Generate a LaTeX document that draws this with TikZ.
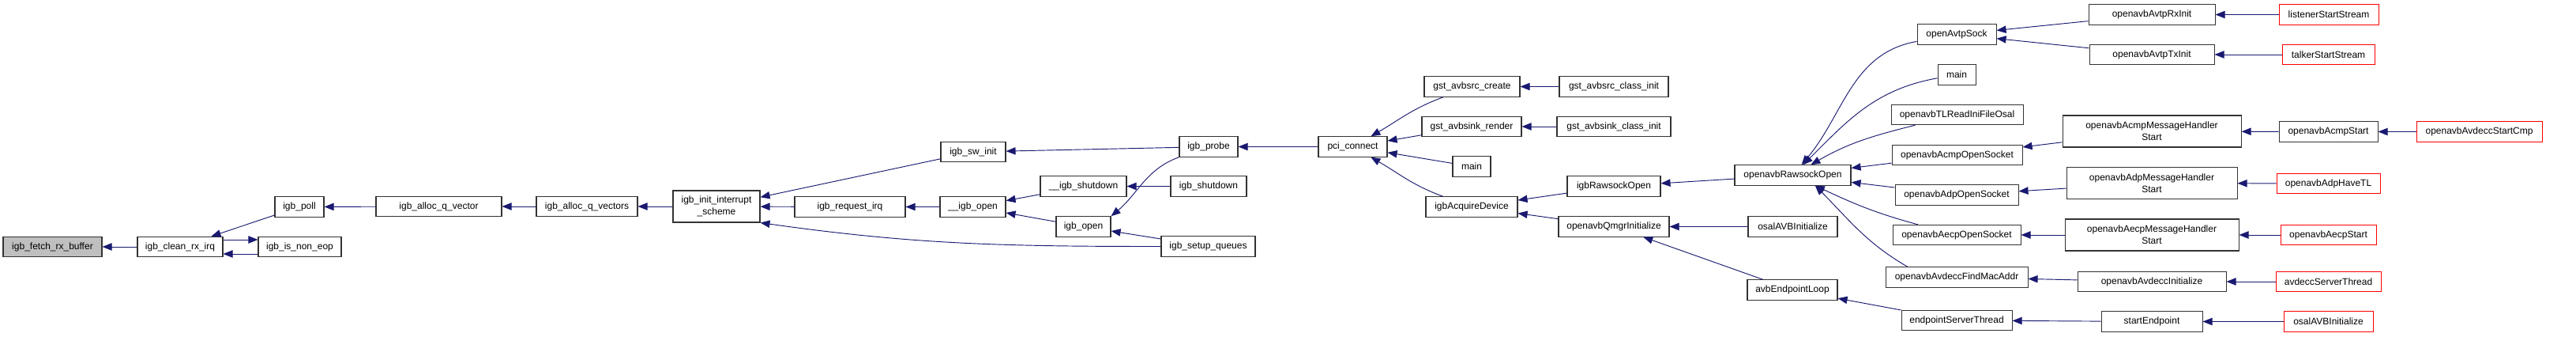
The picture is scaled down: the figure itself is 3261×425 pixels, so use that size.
\documentclass[tikz,border=0pt]{standalone}
\usepackage{fontspec}
\setmainfont{Liberation Sans}
\usetikzlibrary{arrows.meta}
\definecolor{navy}{HTML}{191970}

\begin{document}
\begin{tikzpicture}[x=0.75pt, y=0.75pt,
    fn/.style={draw=black!80, line width=0.8pt, fill=white, inner sep=0pt,
        minimum width=#1*0.75pt, minimum height=19pt,
        font=\fontsize{9}{11}\selectfont, align=center},
    root/.style={fill=black!25},
    leaf/.style={draw=red},
    call/.style={navy, line width=0.7pt, -{Triangle[length=9pt,width=7pt]}}]
    \useasboundingbox (0,0) rectangle (3261,-425);

    \node[fn=125, root] (fetch) at (66.5,-312) {igb\_fetch\_rx\_buffer};
    \node[fn=108] (clean) at (228,-312) {igb\_clean\_rx\_irq};
    \node[fn=62] (poll) at (379,-261.5) {igb\_poll};
    \node[fn=105] (noneop) at (379.5,-312) {igb\_is\_non\_eop};
    \node[fn=159] (allocv) at (555.5,-261) {igb\_alloc\_q\_vector};
    \node[fn=128] (allocvs) at (743,-261) {igb\_alloc\_q\_vectors};
    \node[fn=110, minimum height=30pt] (initint) at (907,-261) {igb\_init\_interrupt\\\_scheme};
    \node[fn=140] (reqirq) at (1076,-261.5) {igb\_request\_irq};
    \node[fn=82] (swinit) at (1232,-192) {igb\_sw\_init};
    \node[fn=83] (uuopen) at (1231.5,-261.5) {\_\_igb\_open};
    \node[fn=109] (uushut) at (1371.5,-235.5) {\_\_igb\_shutdown};
    \node[fn=69] (open) at (1371.5,-286.5) {igb\_open};
    \node[fn=74] (probe) at (1530,-185.5) {igb\_probe};
    \node[fn=96] (shutdown) at (1530,-235.5) {igb\_shutdown};
    \node[fn=119] (setupq) at (1529.5,-311.5) {igb\_setup\_queues};
    \node[fn=87] (pci) at (1712.5,-185.5) {pci\_connect};
    \node[fn=121] (srccreate) at (1863.5,-109.5) {gst\_avbsrc\_create};
    \node[fn=126] (sinkrender) at (1863,-160) {gst\_avbsink\_render};
    \node[fn=48] (mainA) at (1863,-210.5) {main};
    \node[fn=116] (acquire) at (1863,-261.5) {igbAcquireDevice};
    \node[fn=138] (srcclass) at (2043,-109.5) {gst\_avbsrc\_class\_init};
    \node[fn=144] (sinkclass) at (2043,-160) {gst\_avbsink\_class\_init};
    \node[fn=118] (igbraw) at (2043,-235.5) {igbRawsockOpen};
    \node[fn=140] (qmgr) at (2043,-286.5) {openavbQmgrInitialize};
    \node[fn=147] (rawopen) at (2269.5,-221.5) {openavbRawsockOpen};
    \node[fn=113] (osalA) at (2269.5,-286.5) {osalAVBInitialize};
    \node[fn=114] (eploop) at (2269,-366.5) {avbEndpointLoop};
    \node[fn=100] (avtpsock) at (2477,-43.5) {openAvtpSock};
    \node[fn=48] (mainB) at (2477,-94.5) {main};
    \node[fn=167] (tlread) at (2477.5,-145) {openavbTLReadIniFileOsal};
    \node[fn=165] (acmpsock) at (2477.5,-196) {openavbAcmpOpenSocket};
    \node[fn=156] (adpsock) at (2477,-246.5) {openavbAdpOpenSocket};
    \node[fn=162] (aecpsock) at (2477,-297) {openavbAecpOpenSocket};
    \node[fn=180] (findmac) at (2477,-350.5) {openavbAvdeccFindMacAddr};
    \node[fn=140] (epserver) at (2477,-405) {endpointServerThread};
    \node[fn=160] (rxinit) at (2724,-18.5) {openavbAvtpRxInit};
    \node[fn=158] (txinit) at (2724,-69) {openavbAvtpTxInit};
    \node[fn=226, minimum height=30pt] (acmpmsg) at (2724,-166) {openavbAcmpMessageHandler\\Start};
    \node[fn=216, minimum height=30pt] (adpmsg) at (2724,-231.5) {openavbAdpMessageHandler\\Start};
    \node[fn=220, minimum height=30pt] (aecpmsg) at (2724,-297) {openavbAecpMessageHandler\\Start};
    \node[fn=188] (avdinit) at (2724,-356) {openavbAvdeccInitialize};
    \node[fn=128] (startep) at (2724,-406.5) {startEndpoint};
    \node[fn=126, leaf] (listener) at (2948,-18.5) {listenerStartStream};
    \node[fn=117, leaf] (talker) at (2947.5,-69) {talkerStartStream};
    \node[fn=125] (acmpstart) at (2947.5,-166.5) {openavbAcmpStart};
    \node[fn=159, leaf] (startcmp) at (3138.5,-166.5) {openavbAvdeccStartCmp};
    \node[fn=131, leaf] (havetl) at (2947.5,-232) {openavbAdpHaveTL};
    \node[fn=121, leaf] (aecpstart) at (2947.5,-297) {openavbAecpStart};
    \node[fn=133, leaf] (avdserver) at (2947.5,-356) {avdeccServerThread};
    \node[fn=113, leaf] (osalB) at (2947.5,-406.5) {osalAVBInitialize};

    \draw[call] (clean) -- (fetch);
    \draw[call] (poll) -- (clean);
    \draw[call] ([yshift=6.75pt]clean.east) -- ([yshift=6.75pt]noneop.west);
    \draw[call] ([yshift=-6.75pt]noneop.west) -- ([yshift=-6.75pt]clean.east);
    \draw[call] (allocv) -- (poll);
    \draw[call] (allocvs) -- (allocv);
    \draw[call] (initint) -- (allocvs);
    \draw[call] (swinit) -- (initint);
    \draw[call] (reqirq) -- (initint);
    \draw[call] (setupq) to[out=180,in=-8] (initint.south east);
    \draw[call] (uuopen) -- (reqirq);
    \draw[call] (probe) -- (swinit);
    \draw[call] (uushut) -- (uuopen);
    \draw[call] (open) -- (uuopen);
    \draw[call] (shutdown) -- (uushut);
    \draw[call] (probe.south west) to[out=200,in=40] (open.north east);
    \draw[call] (setupq) -- (open);
    \draw[call] (pci) -- (probe);
    \draw[call] (srccreate) to[out=200,in=30] (pci);
    \draw[call] (sinkrender) -- (pci);
    \draw[call] (mainA) -- (pci);
    \draw[call] (acquire) to[out=160,in=-30] (pci);
    \draw[call] (srcclass) -- (srccreate);
    \draw[call] (sinkclass) -- (sinkrender);
    \draw[call] (igbraw) -- (acquire);
    \draw[call] (qmgr) -- (acquire);
    \draw[call] (rawopen) -- (igbraw);
    \draw[call] (osalA) -- (qmgr);
    \draw[call] (eploop) -- (qmgr);
    \draw[call] (avtpsock) to[out=190,in=50] (rawopen);
    \draw[call] (mainB) to[out=190,in=45] (rawopen);
    \draw[call] (tlread) to[out=194,in=30] (rawopen);
    \draw[call] (acmpsock) -- (rawopen);
    \draw[call] (adpsock) -- (rawopen);
    \draw[call] (aecpsock) to[out=165,in=-25] (rawopen);
    \draw[call] (findmac.168) to[out=150,in=-45] (rawopen.-25);
    \draw[call] (epserver) -- (eploop);
    \draw[call] (rxinit) -- (avtpsock);
    \draw[call] (txinit) -- (avtpsock);
    \draw[call] (acmpmsg) -- (acmpsock);
    \draw[call] (adpmsg) -- (adpsock);
    \draw[call] (aecpmsg) -- (aecpsock);
    \draw[call] (avdinit) -- (findmac);
    \draw[call] (startep) -- (epserver);
    \draw[call] (listener) -- (rxinit);
    \draw[call] (talker) -- (txinit);
    \draw[call] (acmpstart) -- (acmpmsg);
    \draw[call] (startcmp) -- (acmpstart);
    \draw[call] (havetl) -- (adpmsg);
    \draw[call] (aecpstart) -- (aecpmsg);
    \draw[call] (avdserver) -- (avdinit);
    \draw[call] (osalB) -- (startep);
\end{tikzpicture}
\end{document}
